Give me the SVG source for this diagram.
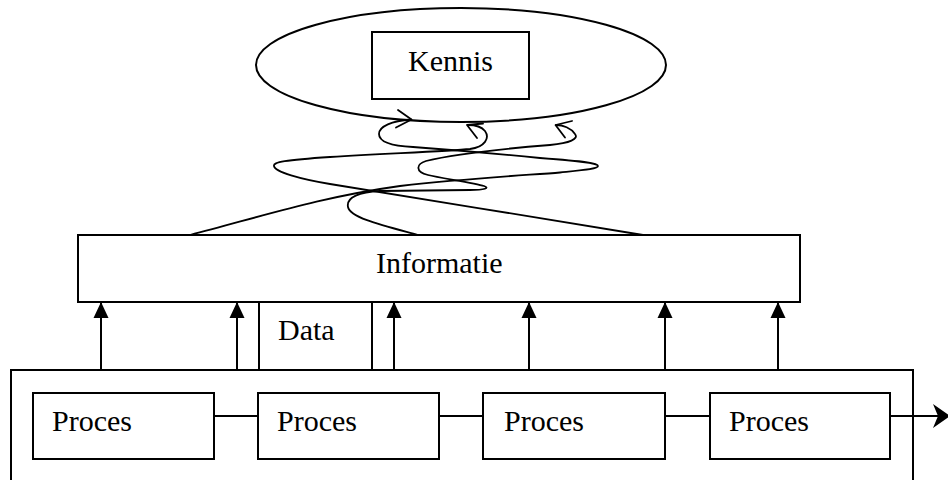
<svg xmlns="http://www.w3.org/2000/svg" width="948" height="480" viewBox="0 0 948 480">
  <style>
    .box { fill: #fff; stroke: #000; stroke-width: 2; }
    .frame { fill: none; stroke: #000; stroke-width: 2; }
    .lbl { font-family: "Liberation Serif", "Times New Roman", serif; font-size: 30px; fill: #000; }
    .wire { fill: none; stroke: #000; stroke-width: 2; }
    .curl { fill: none; stroke: #000; stroke-width: 1.8; stroke-linecap: round; stroke-linejoin: round; }
  </style>
  <defs>
    <marker id="tri" viewBox="0 0 16 16" markerWidth="16" markerHeight="16" refX="16" refY="8" orient="auto" markerUnits="userSpaceOnUse">
      <path d="M0,0.5 L16,8 L0,15.5 Z" fill="#000"/>
    </marker>
    <marker id="chev" viewBox="0 0 18 26" markerWidth="18" markerHeight="26" refX="17" refY="13" orient="auto" markerUnits="userSpaceOnUse">
      <path d="M0,1 L17,13 L0,25 L5,13 Z" fill="#000"/>
    </marker>
  </defs>

  <rect width="948" height="480" fill="#fff"/>

  <!-- knowledge -->
  <g id="kennis">
    <ellipse cx="461" cy="65" rx="205" ry="57" class="frame"/>
    <rect x="372" y="32" width="157" height="67" class="box"/>
    <text x="408" y="71" class="lbl">Kennis</text>
  </g>

  <!-- information layer -->
  <g id="informatie">
    <rect x="78" y="235" width="722" height="67" class="box"/>
    <text x="376" y="273" class="lbl">Informatie</text>
  </g>

  <!-- data -->
  <g id="data">
    <rect x="259" y="302" width="113" height="68" class="box"/>
    <text x="278" y="340" class="lbl">Data</text>
  </g>

  <!-- process frame -->
  <g id="processen">
    <rect x="11" y="370" width="902" height="140" class="frame"/>
  </g>

  <g id="proces-1">
    <rect x="33" y="393" width="181" height="66" class="box"/>
    <text x="52" y="431" class="lbl">Proces</text>
  </g>
  <g id="proces-2">
    <rect x="258" y="393" width="181" height="66" class="box"/>
    <text x="277" y="431" class="lbl">Proces</text>
  </g>
  <g id="proces-3">
    <rect x="483" y="393" width="182" height="66" class="box"/>
    <text x="504" y="431" class="lbl">Proces</text>
  </g>
  <g id="proces-4">
    <rect x="710" y="393" width="180" height="66" class="box"/>
    <text x="729" y="431" class="lbl">Proces</text>
  </g>

  <g id="connectors">
    <!-- process chain -->
    <line x1="214" y1="416" x2="258" y2="416" class="wire"/>
    <line x1="439" y1="416" x2="483" y2="416" class="wire"/>
    <line x1="665" y1="416" x2="710" y2="416" class="wire"/>
    <line x1="890" y1="416" x2="950" y2="416" class="wire" marker-end="url(#chev)"/>

    <!-- upward arrows into the information layer -->
    <line x1="101" y1="370" x2="101" y2="302" class="wire" marker-end="url(#tri)"/>
    <line x1="237" y1="370" x2="237" y2="302" class="wire" marker-end="url(#tri)"/>
    <line x1="394" y1="370" x2="394" y2="302" class="wire" marker-end="url(#tri)"/>
    <line x1="529" y1="370" x2="529" y2="302" class="wire" marker-end="url(#tri)"/>
    <line x1="665" y1="370" x2="665" y2="302" class="wire" marker-end="url(#tri)"/>
    <line x1="778" y1="370" x2="778" y2="302" class="wire" marker-end="url(#tri)"/>

    <!-- curly paths from information to knowledge -->
    <path class="curl" d="M190,235 C260,217 320,197 400,186 C470,178 530,175 560,172.5 C585,170 598,169 598,166 C598,163 585,161.5 540,158 C500,154 440,149 413,147 C392,146 379,142 379,134 C379,126 392,121 411,119.5"/>
    <path class="curl" d="M418,235 C385,226 350,218 348,207 C346,197 360,192 380,191 L470,190 C485,190 490,188 484,186 C475,183 440,178 428,175 C415,172 416,164 426,161 C450,155 500,149 550,145 C570,143 579,139 575,134 C571,128 563,125 556,125"/>
    <path class="curl" d="M643,235 C560,222 420,198 330,184 C300,179 275,172 274,166 C273,162 285,160 330,157 C400,153 450,151 470,149 C485,147 490,138 485,131 C481,126 474,125 468,125"/>

    <!-- open heads of the curly paths -->
    <path class="curl" d="M398,110 L411.5,119.5 L396,127.5"/>
    <path class="curl" d="M483,123.5 L467,125 L477,138"/>
    <path class="curl" d="M572,121 L555.5,125 L565,137.5"/>
  </g>
</svg>
